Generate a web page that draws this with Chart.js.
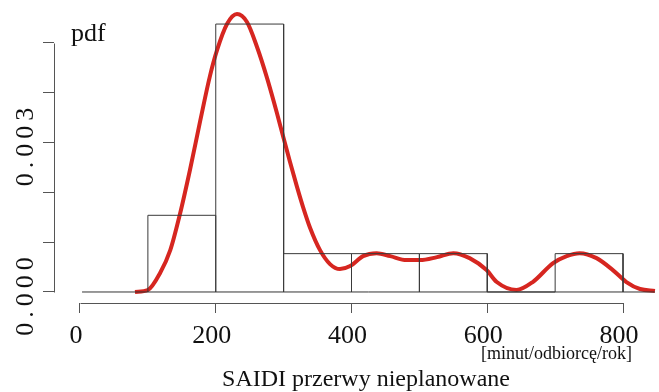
<!DOCTYPE html>
<html lang="pl">
<head>
<meta charset="UTF-8">
<title>SAIDI przerwy nieplanowane</title>
<script src="https://cdn.jsdelivr.net/npm/chart.js"></script>
<style>
  html, body { margin: 0; padding: 0; background: #fff; }
</style>
</head>
<body>
<canvas id="myChart" width="659" height="392"></canvas>
<script>
  // histogram: granice przedziałów i gęstość w przedziałach
  const granice = [100, 200, 300, 400, 500, 600, 700, 800];
  const gestosc = [0.00154, 0.00538, 0.00077, 0.00077, 0.00077, 0, 0.00077];

  // estymator jądrowy gęstości
  const pdfX = [81, 100, 118, 133, 147, 162, 177, 191.5, 202, 216.6, 231.3, 246, 260.8, 275.5, 290.2, 299.1, 309.4,
    319.7, 328.5, 338.9, 353.6, 368.3, 383, 398, 417, 437, 457, 481, 501, 526, 550, 574, 599, 614, 643, 667, 697,
    717, 736, 761, 785, 805, 825, 847];
  const pdfY = [0, 0.00004, 0.00038, 0.00084, 0.00155, 0.00245, 0.00343, 0.00434, 0.00486, 0.00538, 0.00558,
    0.00542, 0.00492, 0.0043, 0.00359, 0.00313, 0.00261, 0.00211, 0.00171, 0.00129, 0.00084, 0.00056, 0.00046,
    0.00052, 0.00072, 0.00078, 0.00072, 0.00064, 0.00064, 0.0007, 0.00078, 0.00068, 0.00044, 0.0002, 0.00004,
    0.0002, 0.00058, 0.00072, 0.00078, 0.00068, 0.00044, 0.0002, 0.00006, 0.00002];

  // linia zerowa
  const liniaZero = [3, 847];

  // osie
  const xTicks = [0, 200, 400, 600, 800];
  const yTicks = [0, 0.001, 0.002, 0.003, 0.004, 0.005];
  const yEtykiety = [0, 0.003];

  const FONT = "'Liberation Serif', 'DejaVu Serif', serif";

  // kontur histogramu
  let histPunkty = [];
  for (let i = 0; i < gestosc.length; i++) {
    histPunkty.push({ x: granice[i], y: 0 });
    histPunkty.push({ x: granice[i], y: gestosc[i] });
    histPunkty.push({ x: granice[i + 1], y: gestosc[i] });
    histPunkty.push({ x: granice[i + 1], y: 0 });
  }

  const pdfPunkty = pdfX.map((x, i) => ({ x: x, y: pdfY[i] }));
  const zeroPunkty = liniaZero.map(x => ({ x: x, y: 0 }));

  // osie w stylu R + opisy
  const osiePlugin = {
    id: 'osie',
    afterDraw(chart) {
      const ctx = chart.ctx;
      const sx = chart.scales.x;
      const sy = chart.scales.y;
      const area = chart.chartArea;
      ctx.save();
      ctx.strokeStyle = '#555';
      ctx.lineWidth = 1;

      // oś Y
      const xl = Math.round(area.left) + 0.5;
      ctx.beginPath();
      ctx.moveTo(xl, Math.round(sy.getPixelForValue(yTicks[yTicks.length - 1])) + 0.5);
      ctx.lineTo(xl, Math.round(sy.getPixelForValue(yTicks[0])) + 0.5);
      ctx.stroke();

      // oś X
      const yb = Math.round(area.bottom) + 0.5;
      ctx.beginPath();
      ctx.moveTo(Math.round(sx.getPixelForValue(xTicks[0])) + 0.5, yb);
      ctx.lineTo(Math.round(sx.getPixelForValue(xTicks[xTicks.length - 1])) + 0.5, yb);
      ctx.stroke();

      // etykiety osi Y (obrócone)
      ctx.fillStyle = '#111';
      ctx.font = '26px ' + FONT;
      ctx.letterSpacing = '5px';
      ctx.textAlign = 'center';
      ctx.textBaseline = 'alphabetic';
      yEtykiety.forEach(v => {
        ctx.save();
        ctx.translate(33, sy.getPixelForValue(v) + 2);
        ctx.rotate(-Math.PI / 2);
        ctx.fillText(v.toFixed(3), 0, 0);
        ctx.restore();
      });
      ctx.letterSpacing = '0px';

      // opisy
      ctx.textAlign = 'left';
      ctx.font = '26px ' + FONT;
      ctx.fillText('pdf', 71, 41);

      ctx.textAlign = 'right';
      ctx.font = '18px ' + FONT;
      ctx.fillText('[minut/odbiorcę/rok]', 632, 359);

      ctx.textAlign = 'center';
      ctx.font = '24px ' + FONT;
      ctx.fillText('SAIDI przerwy nieplanowane', 366, 386);
      ctx.restore();
    }
  };

  const config = {
    type: 'line',
    data: {
      datasets: [
        {
          label: 'zero',
          data: zeroPunkty,
          borderColor: '#333',
          borderWidth: 1,
          pointRadius: 0,
          fill: false
        },
        {
          label: 'histogram',
          data: histPunkty,
          borderColor: '#3a3a3a',
          borderWidth: 1,
          pointRadius: 0,
          tension: 0,
          fill: false
        },
        {
          label: 'pdf',
          data: pdfPunkty,
          borderColor: 'rgb(214, 38, 32)',
          borderWidth: 4,
          pointRadius: 0,
          cubicInterpolationMode: 'monotone',
          fill: false,
          clip: false
        }
      ]
    },
    options: {
      responsive: false,
      animation: false,
      events: [],
      layout: { padding: 0 },
      plugins: {
        legend: { display: false },
        tooltip: { enabled: false }
      },
      scales: {
        x: {
          type: 'linear',
          min: -38.3,
          max: 853,
          afterBuildTicks: (scale) => { scale.ticks = xTicks.map(v => ({ value: v })); },
          afterFit: (scale) => { scale.height = 89; },
          border: { display: false },
          grid: { drawOnChartArea: false, drawTicks: true, tickLength: 10, color: '#555' },
          ticks: {
            autoSkip: false,
            maxRotation: 0,
            padding: 8,
            labelOffset: -4,
            color: '#111',
            font: { family: FONT, size: 26 }
          }
        },
        y: {
          type: 'linear',
          min: -0.000221,
          max: 0.005863,
          afterBuildTicks: (scale) => { scale.ticks = yTicks.map(v => ({ value: v })); },
          afterFit: (scale) => { scale.width = 54; },
          border: { display: false },
          grid: { drawOnChartArea: false, drawTicks: true, tickLength: 11, color: '#555' },
          ticks: {
            callback: () => '',
            padding: 0,
            font: { size: 1, lineHeight: 0.01 }
          }
        }
      }
    },
    plugins: [osiePlugin]
  };

  let myChart = new Chart(document.getElementById('myChart'), config);
</script>
</body>
</html>
